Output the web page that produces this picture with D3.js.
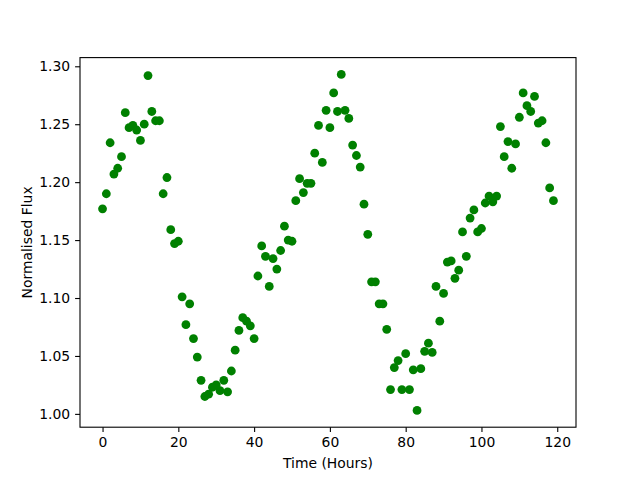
<!DOCTYPE html>
<html>
<head>
<meta charset="utf-8">
<script src="https://cdn.jsdelivr.net/npm/d3@7"></script>
<style>
  body { margin: 0; background: #fff; }
  text { font-family: "DejaVu Sans", sans-serif; fill: #000; }
</style>
</head>
<body>
<div id="chart"></div>
<script>
// hourly flux readings, hour 0 .. 119
const flux = [
  1.177, 1.190, 1.234, 1.207, 1.212, 1.222, 1.260, 1.247, 1.249, 1.245,
  1.236, 1.250, 1.292, 1.261, 1.253, 1.253, 1.190, 1.204, 1.159, 1.147,
  1.149, 1.101, 1.077, 1.095, 1.065, 1.049, 1.029, 1.015, 1.017, 1.023,
  1.025, 1.020, 1.029, 1.019, 1.037, 1.055, 1.072, 1.083, 1.080, 1.076,
  1.065, 1.119, 1.145, 1.136, 1.110, 1.134, 1.125, 1.141, 1.162, 1.150,
  1.149, 1.184, 1.203, 1.191, 1.199, 1.199, 1.225, 1.249, 1.217, 1.262,
  1.247, 1.277, 1.261, 1.293, 1.262, 1.255, 1.232, 1.223, 1.213, 1.181,
  1.155, 1.114, 1.114, 1.095, 1.095, 1.073, 1.021, 1.040, 1.046, 1.021,
  1.052, 1.021, 1.038, 1.003, 1.039, 1.054, 1.061, 1.053, 1.110, 1.080,
  1.104, 1.131, 1.132, 1.117, 1.124, 1.157, 1.136, 1.169, 1.176, 1.157,
  1.160, 1.182, 1.188, 1.183, 1.188, 1.248, 1.222, 1.235, 1.212, 1.233,
  1.256, 1.277, 1.266, 1.261, 1.274, 1.251, 1.253, 1.234, 1.195, 1.184
];
const hours = flux.map((d, i) => i);
const xTicks = [0, 20, 40, 60, 80, 100, 120];
const yTicks = [1.00, 1.05, 1.10, 1.15, 1.20, 1.25, 1.30];

const width = 640, height = 480;
const margin = { top: 57.6, right: 64, bottom: 52.8, left: 80 };
const w = width - margin.left - margin.right;
const h = height - margin.top - margin.bottom;

// matplotlib style 5% padding round the data
const xmin = d3.min(hours), xmax = d3.max(hours);
const ymin = d3.min(flux), ymax = d3.max(flux);
const xpad = (xmax - xmin) * 0.05, ypad = (ymax - ymin) * 0.05;

const xScale = d3.scaleLinear().domain([xmin - xpad, xmax + xpad]).range([0, w]);
const yScale = d3.scaleLinear().domain([ymin - ypad, ymax + ypad]).range([h, 0]);

const svg = d3.select('#chart').append('svg')
  .attr('width', width)
  .attr('height', height)
  .append('g')
  .attr('transform', 'translate(' + margin.left + ',' + margin.top + ')');

// points
svg.selectAll('.dot')
  .data(flux)
  .enter().append('circle')
  .attr('class', 'dot')
  .attr('cx', (d, i) => xScale(hours[i]))
  .attr('cy', d => yScale(d))
  .attr('r', 4.4)
  .attr('fill', '#008000');

// axes
const xAxis = svg.append('g')
  .attr('transform', 'translate(0,' + h + ')')
  .call(d3.axisBottom(xScale).tickValues(xTicks).tickSize(4.9).tickPadding(4.9));
const yAxis = svg.append('g')
  .call(d3.axisLeft(yScale).tickValues(yTicks).tickFormat(d3.format('.2f')).tickSize(4.9).tickPadding(4.9));

[xAxis, yAxis].forEach(a => {
  a.select('.domain').remove();
  a.selectAll('.tick line').attr('stroke', '#000').attr('stroke-width', 1.1);
  a.selectAll('.tick text').style('font-size', '13.9px').attr('fill', '#000');
});

// frame
svg.append('rect')
  .attr('width', w)
  .attr('height', h)
  .attr('fill', 'none')
  .attr('stroke', '#000')
  .attr('stroke-width', 1.1);

svg.append('text')
  .attr('x', w / 2)
  .attr('y', h + 41)
  .attr('text-anchor', 'middle')
  .style('font-size', '13.9px')
  .text('Time (Hours)');

svg.append('text')
  .attr('transform', 'translate(' + (-48) + ',' + (h / 2) + ') rotate(-90)')
  .attr('text-anchor', 'middle')
  .style('font-size', '13.9px')
  .text('Normalised Flux');
</script>
</body>
</html>
